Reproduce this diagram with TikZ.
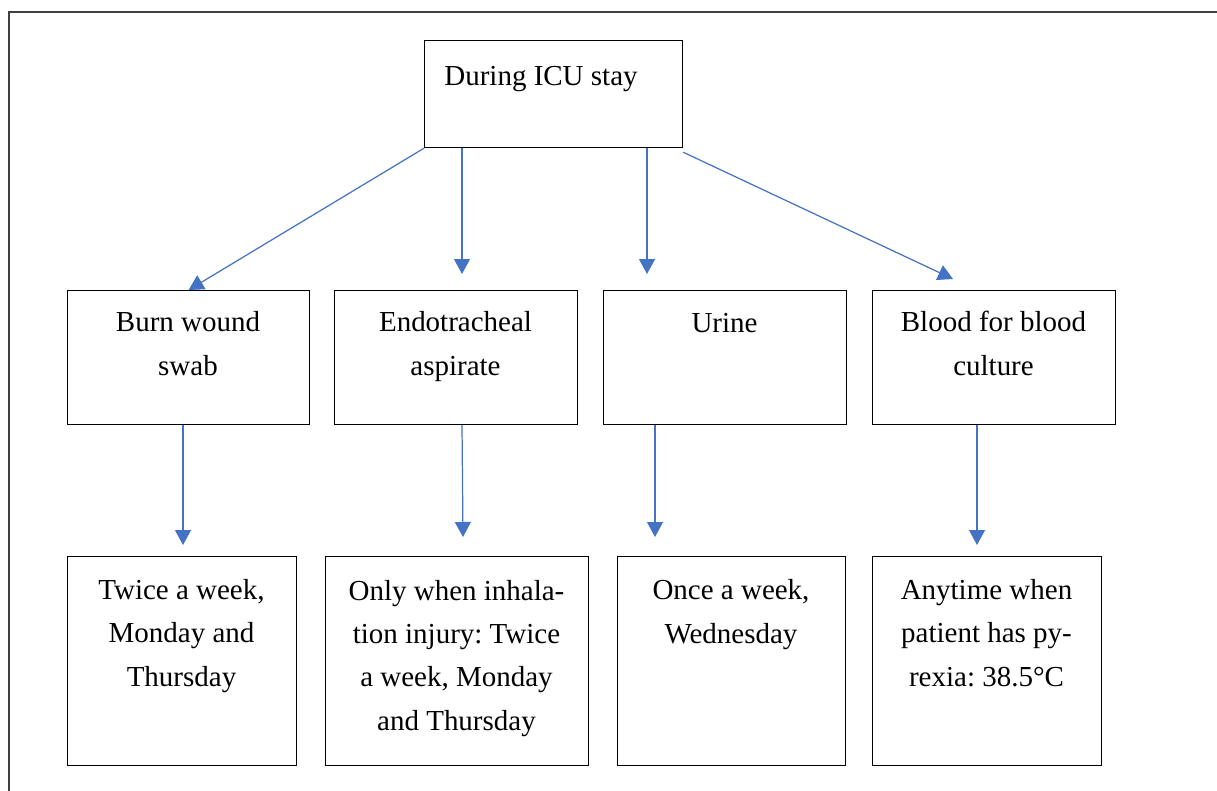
\documentclass[tikz,border=0pt]{standalone}
\usepackage{fontspec}
\setmainfont{Liberation Serif}
\frenchspacing
\usetikzlibrary{arrows.meta}
\definecolor{arrblue}{HTML}{4472C4}
\tikzset{
  box/.style={draw,line width=0.7pt,anchor=north west,inner sep=0pt},
  lbl/.style={align=center,anchor=base,inner sep=0pt,font=\fontsize{16.5}{24.5}\selectfont},
  arr/.style={draw=arrblue,line width=0.7pt,-{Triangle[length=0.3cm,width=0.32cm]}}
}
\begin{document}
\begin{tikzpicture}[x=0.02cm,y=-0.02cm]
  \useasboundingbox (0,0) rectangle (1217,791);
  \draw[line width=0.9pt,black!75] (9,791) -- (9,12) -- (1217,12);
  \node[box,minimum width=5.16cm,minimum height=2.14cm] (icu) at (424,40) {};
  \node[lbl] (ticu) at (541,85) {During ICU stay};
  \foreach \n/\x/\w in {burn/67/4.84,endo/334/4.86,urine/603/4.86,blood/872/4.86}
    \node[box,minimum width=\w cm,minimum height=2.68cm] (\n) at (\x,290) {};
  \foreach \n/\x/\w in {burnf/67/4.58,endof/325/5.26,urinef/617/4.56,bloodf/872/4.58}
    \node[box,minimum width=\w cm,minimum height=4.18cm] (\n) at (\x,556) {};
  \node[lbl] (tburn) at (188,375) {Burn wound\\swab};
  \node[lbl] (tendo) at (455.5,375) {Endotracheal\\aspirate};
  \node[lbl] (turine) at (724.5,332) {Urine};
  \node[lbl] (tblood) at (993.5,375) {Blood for blood\\culture};
  \node[lbl] (tburnf) at (181.5,686) {Twice a week,\\Monday and\\Thursday};
  \node[lbl] (tendof) at (456.5,730) {Only when inhala-\\tion injury: Twice\\a week, Monday\\and Thursday};
  \node[lbl] (turinef) at (731,643) {Once a week,\\Wednesday};
  \node[lbl] (tbloodf) at (986.5,686) {Anytime when\\patient has py-\\rexia: 38.5°C};
  \foreach \c/\x/\y in {e2/462/274,e3/647/274,e5/183/545,e6/463/537,e7/655/537,e8/977/545}
    \coordinate (\c) at (\x,\y);
  \coordinate (e4) at (953,279);
  \draw[arr] (icu.south west) -- (burn.north);
  \draw[arr] (icu.south -| e2) -- (e2);
  \draw[arr] (icu.south -| e3) -- (e3);
  \draw[arr] ([yshift=-4*0.02cm]icu.south east) -- (e4);
  \draw[arr] (burn.south -| e5) -- (e5);
  \draw[arr] (endo.south -| 462,0) -- (e6);
  \draw[arr] (urine.south -| e7) -- (e7);
  \draw[arr] (blood.south -| e8) -- (e8);
\end{tikzpicture}
\end{document}
